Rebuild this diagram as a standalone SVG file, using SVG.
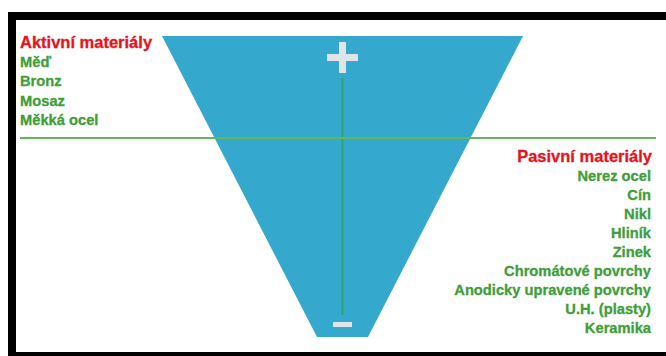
<svg xmlns="http://www.w3.org/2000/svg" width="666" height="356" viewBox="0 0 666 356">
<style>
.t{font-family:"Liberation Sans",Arial,sans-serif;font-weight:bold}
.red{fill:#e8121c;stroke:#e8121c;stroke-width:0.3px;font-size:16.5px}
.grn{fill:#3e9e3a;stroke:#3e9e3a;stroke-width:0.3px;font-size:14.7px}
.r{text-anchor:end}
.sign{fill:#dfe4e8}
</style>
<rect x="0" y="0" width="666" height="356" fill="#ffffff"/>
<g id="frame" fill="#000000">
<rect x="8" y="12" width="658" height="8"/>
<rect x="8" y="12" width="8" height="344"/>
<rect x="8" y="352" width="658" height="4"/>
</g>
<g id="funnel">
<polygon points="162,36 523,36 368,337 317,337" fill="#35a8cd"/>
<rect class="sign" x="327" y="54" width="31" height="7"/>
<rect class="sign" x="339" y="42" width="7" height="31"/>
<rect class="sign" x="333" y="322" width="19" height="5"/>
</g>
<g id="lines">
<line x1="342.5" y1="78" x2="342.5" y2="315" stroke="#34a070" stroke-width="2"/>
<line x1="20" y1="138" x2="656" y2="138" stroke="#62b758" stroke-width="2"/>
</g>
<g id="active" class="t">
<text class="red" x="20" y="48">Aktivní materiály</text>
<text class="grn" x="20" y="67">Měď</text>
<text class="grn" x="20" y="86">Bronz</text>
<text class="grn" x="20" y="106">Mosaz</text>
<text class="grn" x="20" y="125">Měkká ocel</text>
</g>
<g id="passive" class="t r">
<text class="red" x="652" y="162">Pasivní materiály</text>
<text class="grn" x="651" y="181">Nerez ocel</text>
<text class="grn" x="651" y="200">Cín</text>
<text class="grn" x="651" y="219">Nikl</text>
<text class="grn" x="651" y="238">Hliník</text>
<text class="grn" x="651" y="257">Zinek</text>
<text class="grn" x="651" y="276">Chromátové povrchy</text>
<text class="grn" x="651" y="295">Anodicky upravené povrchy</text>
<text class="grn" x="651" y="314">U.H. (plasty)</text>
<text class="grn" x="651" y="333">Keramika</text>
</g>
</svg>
